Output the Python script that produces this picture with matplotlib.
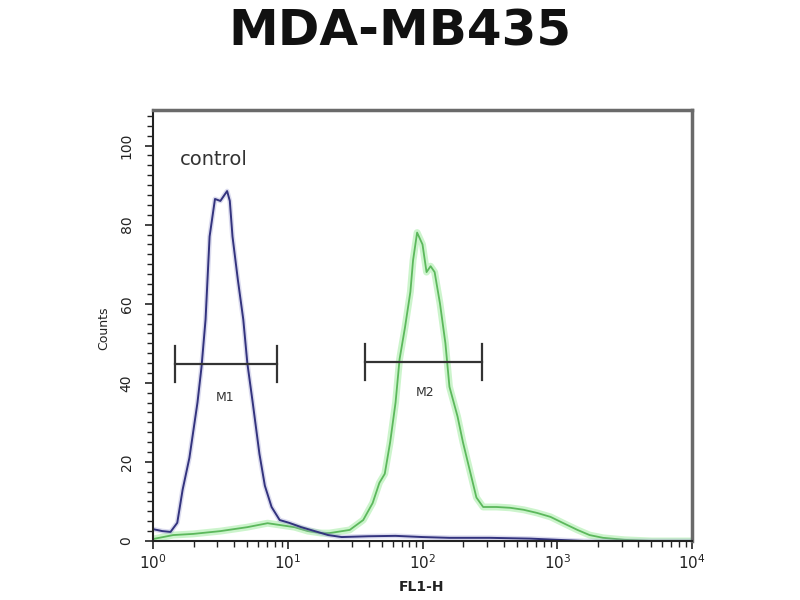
import numpy as np
import matplotlib
matplotlib.use("Agg")
import matplotlib.pyplot as plt
from matplotlib.ticker import MultipleLocator, LogLocator, NullFormatter, FixedLocator

plt.rcParams['font.family'] = ['DejaVu Sans']

title = "MDA-MB435"
xlabel = "FL1-H"
ylabel = "Counts"
annot = "control"

# control histogram (blue): log10(FL1-H) decade position, counts
blue_log = [0.00, 0.07, 0.13, 0.18, 0.22, 0.27, 0.33, 0.36, 0.39, 0.42, 0.46, 0.50,
            0.55, 0.57, 0.59, 0.63, 0.67, 0.70, 0.74, 0.79, 0.83, 0.88, 0.94, 1.01,
            1.10, 1.20, 1.30, 1.40, 1.60, 1.80, 2.00, 2.20, 2.50, 2.80, 3.00, 3.20, 4.00]
blue_cnt = [3.0, 2.5, 2.3, 4.6, 13, 21, 35, 44, 56, 77, 86.5, 86,
            88.5, 86, 77, 66, 56, 45, 35, 22, 14, 8.6, 5.3, 4.6,
            3.5, 2.5, 1.5, 1.0, 1.2, 1.3, 1.0, 0.8, 0.8, 0.6, 0.3, 0.0, 0.0]

# antibody histogram (green)
green_log = [0.00, 0.15, 0.30, 0.50, 0.70, 0.85, 0.95, 1.05, 1.15, 1.25, 1.31, 1.46,
             1.56, 1.63, 1.68, 1.72, 1.76, 1.80, 1.83, 1.87, 1.91, 1.93, 1.96, 2.00,
             2.03, 2.06, 2.09, 2.13, 2.17, 2.20, 2.26, 2.30, 2.35, 2.40, 2.45, 2.55,
             2.65, 2.75, 2.85, 2.95, 3.04, 3.15, 3.24, 3.34, 3.50, 3.70, 4.00]
green_cnt = [0.5, 1.5, 1.8, 2.5, 3.5, 4.5, 4.0, 3.5, 2.5, 2.0, 2.0, 2.8,
             5.3, 9.6, 14.7, 17, 25, 35, 46, 54, 63, 71, 78, 75,
             68, 69.5, 68, 60, 50, 39, 31.5, 25, 18, 11, 8.6, 8.6,
             8.4, 7.9, 7.1, 6.1, 4.6, 2.8, 1.5, 0.8, 0.3, 0.0, 0.0]

# markers: (name, left, right, height)
markers = [("M1", 1.46, 8.3, 44.7), ("M2", 37.4, 277, 45.2)]
marker_label_pos = [(3.4, 36.3), (105, 37.6)]

yticks = [0, 20, 40, 60, 80, 100]

fig = plt.figure(figsize=(8, 6), dpi=100)
ax = fig.add_axes([153/800, 1-541/600, (692-153)/800, (541-110)/600])

bx = 10 ** np.array(blue_log)
gx = 10 ** np.array(green_log)

ax.plot(gx, green_cnt, color='#8ee88e', lw=5, alpha=0.45, solid_joinstyle='round')
ax.plot(gx, green_cnt, color='#5cb85c', lw=1.3)
ax.plot(bx, blue_cnt, color='#9a9ad0', lw=3.5, alpha=0.35)
ax.plot(bx, blue_cnt, color='#33337e', lw=1.4)

for (name, l, r, h), (lx, ly) in zip(markers, marker_label_pos):
    ax.plot([l, r], [h, h], color='#333333', lw=1.6)
    ax.plot([l, l], [h - 4.5, h + 4.5], color='#333333', lw=1.6)
    ax.plot([r, r], [h - 4.5, h + 4.5], color='#333333', lw=1.6)
    ax.text(lx, ly, name, ha='center', va='center', fontsize=9, color='#333333')

ax.text(0.05, 0.885, annot, transform=ax.transAxes, fontsize=14, color='#333333',
        ha='left', va='center')

ax.set_xscale('log')
ax.set_xlim(1, 1e4)
ax.set_ylim(0, 109)

ax.xaxis.set_major_locator(LogLocator(base=10, numticks=10))
ax.xaxis.set_minor_locator(LogLocator(base=10, subs=np.arange(2, 10), numticks=20))
ax.xaxis.set_minor_formatter(NullFormatter())
ax.yaxis.set_major_locator(FixedLocator(yticks))
ax.yaxis.set_minor_locator(MultipleLocator(2.5))

ax.tick_params(axis='both', which='major', direction='out', length=6, width=1.2,
               color='#222222', labelsize=11, labelcolor='#222222')
ax.tick_params(axis='both', which='minor', direction='out', length=4, width=1.0,
               color='#222222')
ax.tick_params(axis='x', which='major', pad=3)
ax.tick_params(axis='y', which='major', pad=8, labelsize=10)
for lab in ax.get_yticklabels():
    lab.set_rotation(90)
    lab.set_va('center')

for s in ['left', 'bottom']:
    ax.spines[s].set_color('#222222')
    ax.spines[s].set_linewidth(1.5)
for s in ['top', 'right']:
    ax.spines[s].set_color('#6a6a6a')
    ax.spines[s].set_linewidth(2.5)

fig.text(0.5, 1 - 31/600, title, ha='center', va='center', fontsize=36,
         fontweight='bold', color='#111111')
fig.text(104/800, 1 - 328/600, ylabel, rotation=90, ha='center', va='center',
         fontsize=9, color='#222222')
fig.text(422/800, 1 - 587/600, xlabel, ha='center', va='center', fontsize=10,
         color='#222222', fontweight='bold')

fig.savefig('out.png', dpi=100, facecolor='white')
